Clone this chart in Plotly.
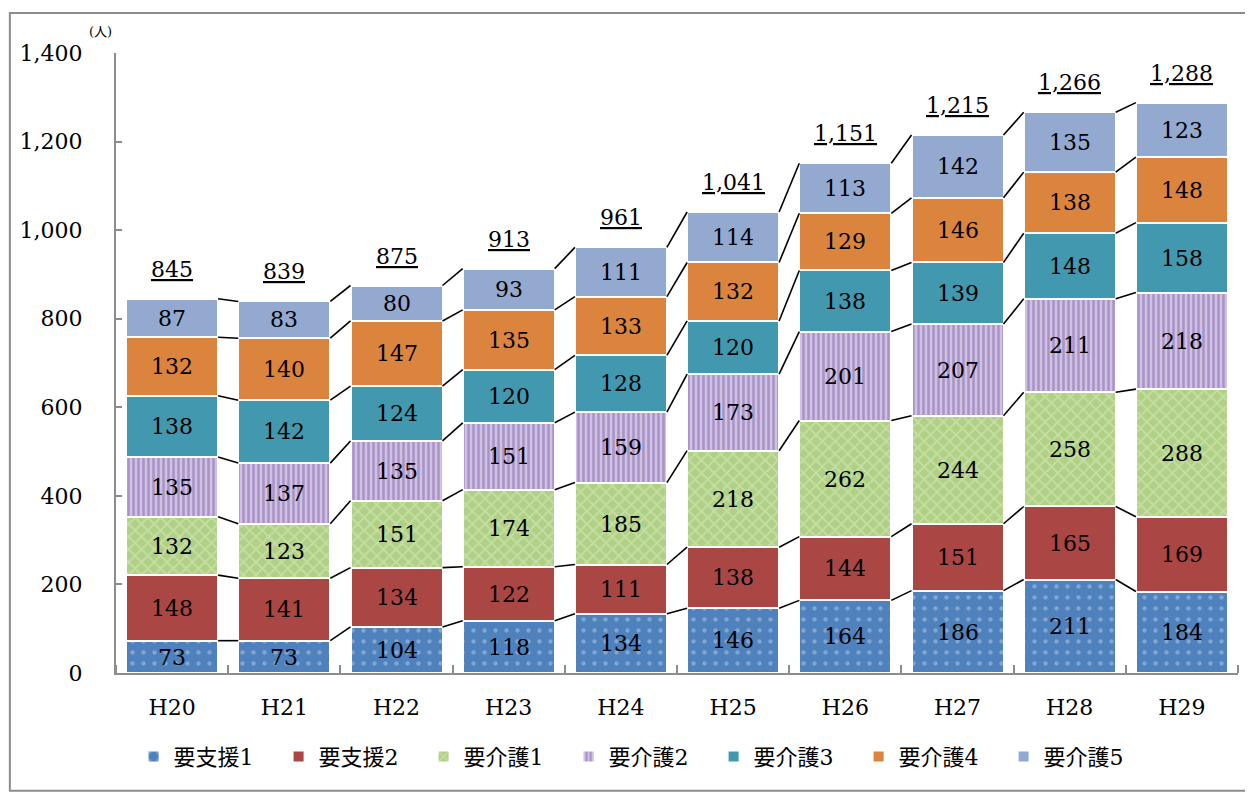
import plotly.graph_objects as go

years = ["H20", "H21", "H22", "H23", "H24", "H25", "H26", "H27", "H28", "H29"]
series_names = ["要支援1", "要支援2", "要介護1", "要介護2", "要介護3", "要介護4", "要介護5"]
shien1 = [73, 73, 104, 118, 134, 146, 164, 186, 211, 184]
shien2 = [148, 141, 134, 122, 111, 138, 144, 151, 165, 169]
kaigo1 = [132, 123, 151, 174, 185, 218, 262, 244, 258, 288]
kaigo2 = [135, 137, 135, 151, 159, 173, 201, 207, 211, 218]
kaigo3 = [138, 142, 124, 120, 128, 120, 138, 139, 148, 158]
kaigo4 = [132, 140, 147, 135, 133, 132, 129, 146, 138, 148]
kaigo5 = [87, 83, 80, 93, 111, 114, 113, 142, 135, 123]
y_ticks = [0, 200, 400, 600, 800, 1000, 1200, 1400]
y_tick_labels = ["0", "200", "400", "600", "800", "1,000", "1,200", "1,400"]

all_series = [shien1, shien2, kaigo1, kaigo2, kaigo3, kaigo4, kaigo5]
styles = [
    dict(color="#4F81BD", pattern=dict(shape=".", fgcolor="#B4CBEA", bgcolor="#4F81BD", size=11, solidity=0.12)),
    dict(color="#AA4644", pattern=None),
    dict(color="#B3D38A", pattern=dict(shape="x", fgcolor="#DCEDC6", bgcolor="#B0D085", size=9, solidity=0.35)),
    dict(color="#9B84BE", pattern=dict(shape="|", fgcolor="#8466AA", bgcolor="#CFC1E3", size=5, solidity=0.5)),
    dict(color="#4299AF", pattern=None),
    dict(color="#DB843D", pattern=None),
    dict(color="#93A9D0", pattern=None),
]

SERIF = "DejaVu Serif, Noto Sans CJK JP"
FS = 22
BAR_W = 0.82
xs = list(range(len(years)))

fig = go.Figure()
for name, vals, st in zip(series_names, all_series, styles):
    marker = dict(color=st["color"], line=dict(color="white", width=2))
    if st["pattern"]:
        marker["pattern"] = st["pattern"]
    fig.add_trace(go.Bar(
        x=xs, y=vals, name=name, width=BAR_W, marker=marker,
        text=vals, texttemplate="%{text}", textposition="inside",
        insidetextanchor="middle", textangle=0,
        textfont=dict(family=SERIF, size=FS, color="black"),
        hoverinfo="skip",
    ))

# connector lines between bars at cumulative levels
cum = [0] * len(years)
for vals in all_series:
    cum = [c + v for c, v in zip(cum, vals)]
    lx, ly = [], []
    for i in range(len(years) - 1):
        lx += [xs[i] + BAR_W / 2, xs[i + 1] - BAR_W / 2, None]
        ly += [cum[i], cum[i + 1], None]
    fig.add_trace(go.Scatter(x=lx, y=ly, mode="lines", line=dict(color="black", width=1.6),
                             showlegend=False, hoverinfo="skip"))

totals = cum
for x, t in zip(xs, totals):
    fig.add_annotation(x=x, y=t, text="<u>{:,}</u>".format(t), showarrow=False,
                       yanchor="bottom", yshift=15,
                       font=dict(family=SERIF, size=FS, color="black"))

fig.add_annotation(xref="paper", yref="paper", x=-0.002, y=1.02, text="(人)", showarrow=False,
                   xanchor="right", yanchor="bottom",
                   font=dict(family=SERIF, size=13, color="black"))

# outer border
fig.add_shape(type="rect", xref="paper", yref="paper", x0=-0.0946, x1=1.0098, y0=-0.19, y1=1.0645,
              line=dict(color="#8C8C8C", width=2), fillcolor="rgba(0,0,0,0)", layer="below")

fig.update_layout(
    width=1245, height=784,
    margin=dict(l=105, r=15, t=45, b=119),
    barmode="stack", bargap=0,
    plot_bgcolor="white", paper_bgcolor="white",
    font=dict(family=SERIF, size=FS, color="black"),
    uniformtext=dict(minsize=FS, mode="show"),
    showlegend=True,
    legend=dict(orientation="h", x=0.468, xanchor="center", y=-0.135, yanchor="middle",
                font=dict(family=SERIF, size=FS, color="black"), traceorder="normal",
                entrywidth=100, itemwidth=30),
    xaxis=dict(range=[-0.5, 9.5], tickmode="array", tickvals=xs, ticktext=years, ticks="",
               showline=True, linecolor="#8C8C8C", linewidth=2, showgrid=False, zeroline=False,
               ticklabelstandoff=14,
               minor=dict(tickmode="linear", tick0=-0.5, dtick=1, ticks="inside", ticklen=8,
                          tickcolor="#8C8C8C", tickwidth=1.5, showgrid=False)),
    yaxis=dict(range=[0, 1400], tickmode="array", tickvals=y_ticks, ticktext=y_tick_labels,
               ticks="inside", ticklen=6, tickcolor="#8C8C8C", tickwidth=1.5,
               showline=True, linecolor="#8C8C8C", linewidth=2, showgrid=False, zeroline=False,
               ticklabelstandoff=27),
)

fig.write_html("out.html")
